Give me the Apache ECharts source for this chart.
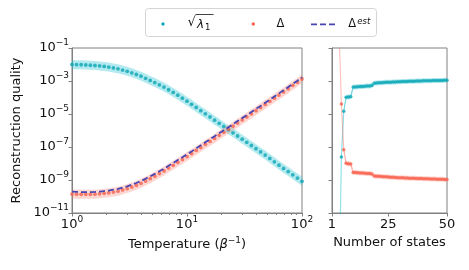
<!DOCTYPE html>
<html><head><meta charset="utf-8">
<script src="https://cdn.jsdelivr.net/npm/echarts@6/dist/echarts.min.js"></script>
<style>html,body{margin:0;padding:0;background:#fff}#c{width:469px;height:270px}</style>
</head><body><div id="c"></div>
<script>
// ---- data (y values are log10 of reconstruction quality) ----
const temps = [1, 1.096, 1.202, 1.318, 1.445, 1.585, 1.738, 1.905, 2.089, 2.291,
  2.512, 2.754, 3.020, 3.311, 3.631, 3.981, 4.365, 4.786, 5.248, 5.754,
  6.310, 6.918, 7.586, 8.318, 9.120, 10, 10.96, 12.02, 13.18, 14.45,
  15.85, 17.38, 19.05, 20.89, 22.91, 25.12, 27.54, 30.20, 33.11, 36.31,
  39.81, 43.65, 47.86, 52.48, 57.54, 63.10, 69.18, 75.86, 83.18, 91.20, 100];
const sqrtLambda1 = [-2.00, -2.008, -2.016, -2.028, -2.044, -2.06, -2.088, -2.116, -2.156, -2.208,
  -2.26, -2.336, -2.412, -2.502, -2.606, -2.71, -2.838, -2.966, -3.098, -3.234,
  -3.37, -3.53, -3.69, -3.86, -4.04, -4.22, -4.412, -4.604, -4.796, -4.988,
  -5.18, -5.372, -5.564, -5.756, -5.948, -6.14, -6.332, -6.524, -6.716, -6.908,
  -7.10, -7.296, -7.492, -7.692, -7.896, -8.10, -8.296, -8.492, -8.688, -8.884, -9.08];
const delta = [-9.85, -9.86, -9.87, -9.87, -9.87, -9.86, -9.84, -9.81, -9.78, -9.73,
  -9.68, -9.60, -9.52, -9.43, -9.32, -9.20, -9.06, -8.92, -8.77, -8.61,
  -8.45, -8.28, -8.11, -7.93, -7.76, -7.58, -7.40, -7.21, -7.03, -6.84,
  -6.66, -6.48, -6.29, -6.11, -5.92, -5.74, -5.55, -5.36, -5.18, -4.99,
  -4.80, -4.61, -4.42, -4.23, -4.04, -3.85, -3.66, -3.47, -3.27, -3.08, -2.88];
const deltaEst = [-9.71, -9.72, -9.73, -9.73, -9.73, -9.72, -9.70, -9.67, -9.64, -9.59,
  -9.54, -9.46, -9.38, -9.29, -9.18, -9.06, -8.92, -8.78, -8.63, -8.47,
  -8.31, -8.14, -7.97, -7.79, -7.62, -7.44, -7.27, -7.08, -6.90, -6.71,
  -6.53, -6.35, -6.16, -5.98, -5.80, -5.62, -5.43, -5.25, -5.07, -4.88,
  -4.69, -4.51, -4.32, -4.13, -3.94, -3.75, -3.56, -3.37, -3.17, -2.98, -2.78];

const nStates = [1, 2, 3, 4, 5, 6, 7, 8, 9, 10, 11, 12, 13, 14, 15, 16, 17, 18, 19, 20,
  21, 22, 23, 24, 25, 26, 27, 28, 29, 30, 31, 32, 33, 34, 35, 36, 37, 38, 39, 40,
  41, 42, 43, 44, 45, 46, 47, 48, 49, 50];
const sqrtLambda1N = [null, null, null, -16, -7.61, -4.84, -3.99, -3.97, -3.95, -3.37,
  -3.36, -3.35, -3.34, -3.33, -3.32, -3.31, -3.30, -3.28, -3.13, -3.12,
  -3.11, -3.10, -3.09, -3.08, -3.075, -3.07, -3.06, -3.055, -3.05, -3.04,
  -3.035, -3.03, -3.025, -3.02, -3.015, -3.01, -3.005, -3.00, -2.995, -2.99,
  -2.985, -2.98, -2.978, -2.975, -2.972, -2.97, -2.968, -2.965, -2.962, -2.96];
const deltaN = [null, null, null, 0.07, -4.39, -7.16, -7.99, -8.01, -8.03, -8.54,
  -8.55, -8.56, -8.57, -8.58, -8.59, -8.60, -8.61, -8.63, -8.76, -8.77,
  -8.78, -8.79, -8.80, -8.81, -8.82, -8.83, -8.84, -8.85, -8.86, -8.865,
  -8.87, -8.875, -8.88, -8.89, -8.895, -8.90, -8.905, -8.91, -8.915, -8.92,
  -8.925, -8.93, -8.935, -8.94, -8.945, -8.95, -8.955, -8.96, -8.965, -8.97];

const yTicks = [-11, -9, -7, -5, -3, -1];
const xTicksLeft = [1, 10, 100];
const xMinorLeft = [2, 3, 4, 5, 6, 7, 8, 9, 20, 30, 40, 50, 60, 70, 80, 90];
const xTicksRight = [1, 25, 50];

// ---- styles ----
const CYAN = '#0ea6b6', RED = '#f7624e', BLUE = '#4646b4';
const CYAN_BAND = 'rgba(23,190,207,0.33)', RED_BAND = 'rgba(255,110,95,0.28)';
const AX = '#808080', TXT = '#111';
const FONT = 'DejaVu Sans';
const FS = 13, FSS = 9;

function pairs(xs, ys) { return xs.map((x, i) => [x, ys[i]]); }

function band(xs, ys, halfPx, color, xi, yi, anchor) {
  return {
    type: 'custom', xAxisIndex: xi, yAxisIndex: yi, silent: true, z: 1,
    data: [anchor],
    renderItem: function (params, api) {
      const up = [], lo = [];
      xs.forEach(function (x, i) {
        if (ys[i] == null) return;
        const p = api.coord([x, ys[i]]);
        up.push([p[0], p[1] - halfPx]);
        lo.push([p[0], p[1] + halfPx]);
      });
      const cs = params.coordSys;
      return {
        type: 'polygon', shape: { points: up.concat(lo.reverse()) },
        style: { fill: color },
        clipPath: { type: 'rect', shape: { x: cs.x, y: cs.y, width: cs.width, height: cs.height } }
      };
    }
  };
}

const supRich = {
  b: { fontSize: FS, fontFamily: FONT, color: TXT, lineHeight: 19 },
  s: { fontSize: FSS, fontFamily: FONT, color: TXT, lineHeight: 9.5, verticalAlign: 'top' }
};
function powLabel(e) { return '{b|10}{s|' + String(e).replace('-', '\u2212') + '}'; }

function yAxis(gi, showLabels) {
  return {
    type: 'value', gridIndex: gi, min: -11, max: -1,
    axisLine: { show: true, lineStyle: { color: AX, width: 1 } },
    axisTick: { show: true, customValues: yTicks, length: 3.5, lineStyle: { color: AX } },
    axisLabel: { show: showLabels, customValues: yTicks, margin: 3, formatter: v => powLabel(v), rich: supRich },
    splitLine: { show: false },
    name: showLabels ? 'Reconstruction quality' : '',
    nameLocation: 'middle', nameGap: 49,
    nameTextStyle: { fontFamily: FONT, fontSize: FS, color: TXT }
  };
}

const option = {
  animation: false,
  grid: [
    { left: 72, top: 48, width: 230, height: 165, show: true, borderColor: AX, borderWidth: 1 },
    { left: 332, top: 48, width: 115, height: 165, show: true, borderColor: AX, borderWidth: 1 }
  ],
  xAxis: [
    {
      type: 'log', gridIndex: 0, min: 1, max: 100, logBase: 10,
      axisLine: { show: true, lineStyle: { color: AX } },
      axisTick: { customValues: xTicksLeft, length: 3.5, lineStyle: { color: AX } },
      axisLabel: { customValues: xTicksLeft, margin: 2, formatter: v => powLabel(Math.round(Math.log10(v))), rich: supRich },
      splitLine: { show: false },
      name: '{n|Temperature (}{i|\u03B2}{s|\u22121}{n|)}',
      nameLocation: 'middle', nameGap: 22,
      nameTextStyle: {
        rich: {
          n: { fontFamily: FONT, fontSize: FS, color: TXT, lineHeight: 17 },
          i: { fontFamily: FONT, fontSize: FS, color: TXT, fontStyle: 'italic', lineHeight: 17 },
          s: { fontFamily: FONT, fontSize: FSS, color: TXT, lineHeight: 9, verticalAlign: 'top' }
        }
      }
    },
    {
      type: 'log', gridIndex: 0, min: 1, max: 100, logBase: 10, position: 'bottom',
      axisLine: { show: false },
      axisTick: { customValues: xMinorLeft, length: 2, lineStyle: { color: AX } },
      axisLabel: { show: false }, splitLine: { show: false }
    },
    {
      type: 'value', gridIndex: 1, min: 1, max: 50,
      axisLine: { show: true, lineStyle: { color: AX } },
      axisTick: { customValues: xTicksRight, length: 3.5, lineStyle: { color: AX } },
      axisLabel: { customValues: xTicksRight, margin: 5, fontFamily: FONT, fontSize: FS, color: TXT },
      splitLine: { show: false },
      name: 'Number of states', nameLocation: 'middle', nameGap: 23,
      nameTextStyle: { fontFamily: FONT, fontSize: FS, color: TXT }
    }
  ],
  yAxis: [yAxis(0, true), yAxis(1, false)],
  series: [
    band(temps, sqrtLambda1, 4.5, CYAN_BAND, 0, 0, [10, -5]),
    band(temps, delta, 4.5, RED_BAND, 0, 0, [10, -5]),
    { type: 'scatter', xAxisIndex: 0, yAxisIndex: 0, data: pairs(temps, sqrtLambda1), symbolSize: 3.8,
      itemStyle: { color: CYAN }, z: 3 },
    { type: 'scatter', xAxisIndex: 0, yAxisIndex: 0, data: pairs(temps, delta), symbolSize: 3.8,
      itemStyle: { color: RED }, z: 3 },
    { type: 'line', xAxisIndex: 0, yAxisIndex: 0, data: pairs(temps, deltaEst), showSymbol: false,
      lineStyle: { color: BLUE, width: 1.8, type: [6, 3] }, z: 4 },

    band(nStates, sqrtLambda1N, 2.5, CYAN_BAND, 2, 1, [25, -5]),
    band(nStates, deltaN, 2.5, RED_BAND, 2, 1, [25, -5]),
    { type: 'line', xAxisIndex: 2, yAxisIndex: 1, data: pairs(nStates, sqrtLambda1N), showSymbol: false,
      lineStyle: { color: 'rgba(23,190,207,0.45)', width: 1.2 }, z: 2 },
    { type: 'line', xAxisIndex: 2, yAxisIndex: 1, data: pairs(nStates, deltaN), showSymbol: false,
      lineStyle: { color: 'rgba(255,110,95,0.4)', width: 1.2 }, z: 2 },
    { type: 'scatter', xAxisIndex: 2, yAxisIndex: 1, data: pairs(nStates, sqrtLambda1N), symbolSize: 3.5,
      itemStyle: { color: CYAN }, z: 3 },
    { type: 'scatter', xAxisIndex: 2, yAxisIndex: 1, data: pairs(nStates, deltaN), symbolSize: 3.5,
      itemStyle: { color: RED }, z: 3 }
  ],
  graphic: [
    { type: 'rect', shape: { x: 145.5, y: 8.5, width: 231, height: 28, r: 3 },
      style: { fill: '#fff', stroke: '#d4d4d4', lineWidth: 1 }, z: 10 },
    { type: 'circle', shape: { cx: 163, cy: 24, r: 1.7 }, style: { fill: CYAN }, z: 11 },
    { type: 'text', x: 187.5, y: 23, style: { text: '\u221A', font: '13px "DejaVu Sans"', fill: TXT, verticalAlign: 'middle' }, z: 11 },
    { type: 'line', shape: { x1: 195.5, y1: 14.5, x2: 213.5, y2: 14.5 }, style: { stroke: TXT, lineWidth: 0.8 }, z: 11 },
    { type: 'text', x: 197, y: 24.5, style: { text: '\u03BB', font: 'italic 12px "DejaVu Sans"', fill: TXT, verticalAlign: 'middle' }, z: 11 },
    { type: 'text', x: 205, y: 27.5, style: { text: '1', font: '8.5px "DejaVu Sans"', fill: TXT, verticalAlign: 'middle' }, z: 11 },
    { type: 'circle', shape: { cx: 253.3, cy: 24, r: 1.7 }, style: { fill: RED }, z: 11 },
    { type: 'text', x: 276.5, y: 24.5, style: { text: '\u0394', font: '11.5px "DejaVu Sans"', fill: TXT, verticalAlign: 'middle' }, z: 11 },
    { type: 'line', shape: { x1: 311, y1: 24.3, x2: 337, y2: 24.3 }, style: { stroke: BLUE, lineWidth: 1.8, lineDash: [6, 3] }, z: 11 },
    { type: 'text', x: 348.3, y: 24.5, style: { text: '\u0394', font: '11.5px "DejaVu Sans"', fill: TXT, verticalAlign: 'middle' }, z: 11 },
    { type: 'text', x: 357.3, y: 21.5, style: { text: 'est', font: 'italic 8.5px "DejaVu Sans"', fill: TXT, verticalAlign: 'middle' }, z: 11 }
  ]
};
const chart = echarts.init(document.getElementById('c'), null, { renderer: 'canvas' });
chart.setOption(option);
</script></body></html>
